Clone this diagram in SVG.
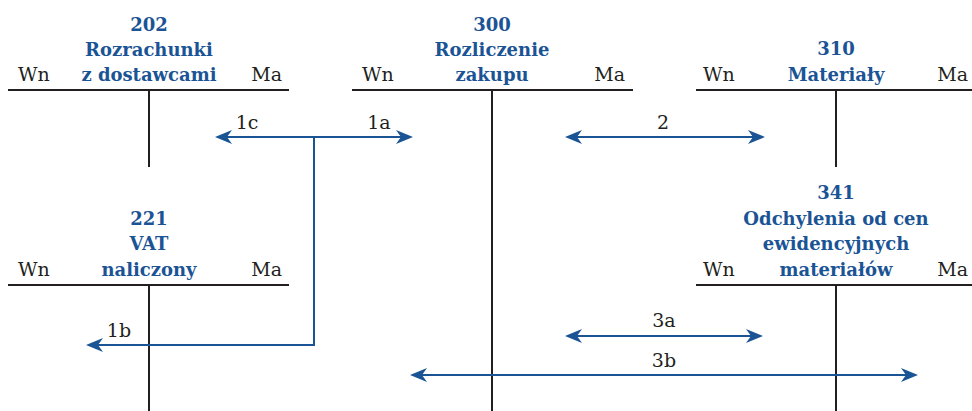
<svg xmlns="http://www.w3.org/2000/svg" width="972" height="411" viewBox="0 0 972 411">
<style>
text{font-family:"DejaVu Serif","Liberation Serif",serif;font-size:19px;}
.lbl{fill:#231f20;}
.ttl{fill:#1b5495;font-weight:bold;text-anchor:middle;font-size:18px;}
.end{text-anchor:end;}
.mid{text-anchor:middle;}
.t{stroke:#231f20;stroke-width:2;fill:none;}
.c{stroke:#1b5495;stroke-width:2;fill:none;}
</style>
<defs>
<marker id="ah" markerUnits="userSpaceOnUse" markerWidth="17" markerHeight="14" refX="11" refY="7" orient="auto-start-reverse">
<path d="M0,0 L17,7 L0,14 L5,7 Z" fill="#1b5495"/>
</marker>
</defs>
<rect width="972" height="411" fill="#ffffff"/>
<g id="acc202">
<text class="ttl" x="149" y="31">202</text>
<text class="ttl" x="149" y="56">Rozrachunki</text>
<text class="ttl" x="149" y="81">z dostawcami</text>
<text class="lbl" x="18" y="81">Wn</text>
<text class="lbl end" x="282" y="81">Ma</text>
<path class="t" d="M8,90 H289 M149,90 V167"/>
</g>
<g id="acc300">
<text class="ttl" x="492" y="31">300</text>
<text class="ttl" x="492" y="56">Rozliczenie</text>
<text class="ttl" x="492" y="81">zakupu</text>
<text class="lbl" x="362" y="81">Wn</text>
<text class="lbl end" x="625" y="81">Ma</text>
<path class="t" d="M352,90 H633 M492,90 V411"/>
</g>
<g id="acc310">
<text class="ttl" x="836" y="55">310</text>
<text class="ttl" x="836" y="81">Materiały</text>
<text class="lbl" x="703" y="81">Wn</text>
<text class="lbl end" x="968" y="81">Ma</text>
<path class="t" d="M696,90 H972 M836,90 V167"/>
</g>
<g id="acc221">
<text class="ttl" x="149" y="225">221</text>
<text class="ttl" x="149" y="250">VAT</text>
<text class="ttl" x="149" y="276">naliczony</text>
<text class="lbl" x="18" y="276">Wn</text>
<text class="lbl end" x="282" y="276">Ma</text>
<path class="t" d="M8,285 H289 M149,285 V411"/>
</g>
<g id="acc341">
<text class="ttl" x="836" y="199">341</text>
<text class="ttl" x="836" y="225">Odchylenia od cen</text>
<text class="ttl" x="836" y="250">ewidencyjnych</text>
<text class="ttl" x="836" y="276">materiałów</text>
<text class="lbl" x="703" y="276">Wn</text>
<text class="lbl end" x="968" y="276">Ma</text>
<path class="t" d="M696,285 H972 M836,285 V411"/>
</g>
<g id="connectors">
<line class="c" x1="221" y1="137" x2="407" y2="137" marker-start="url(#ah)" marker-end="url(#ah)"/>
<polyline class="c" points="314,137 314,345 92,345" marker-end="url(#ah)"/>
<line class="c" x1="571" y1="137" x2="759" y2="137" marker-start="url(#ah)" marker-end="url(#ah)"/>
<line class="c" x1="571" y1="336" x2="757" y2="336" marker-start="url(#ah)" marker-end="url(#ah)"/>
<line class="c" x1="416" y1="375" x2="912" y2="375" marker-start="url(#ah)" marker-end="url(#ah)"/>
<text class="lbl mid" x="247" y="129">1c</text>
<text class="lbl mid" x="379" y="129">1a</text>
<text class="lbl mid" x="119" y="337">1b</text>
<text class="lbl mid" x="663" y="129">2</text>
<text class="lbl mid" x="664" y="327">3a</text>
<text class="lbl mid" x="664" y="367">3b</text>
</g>
</svg>
